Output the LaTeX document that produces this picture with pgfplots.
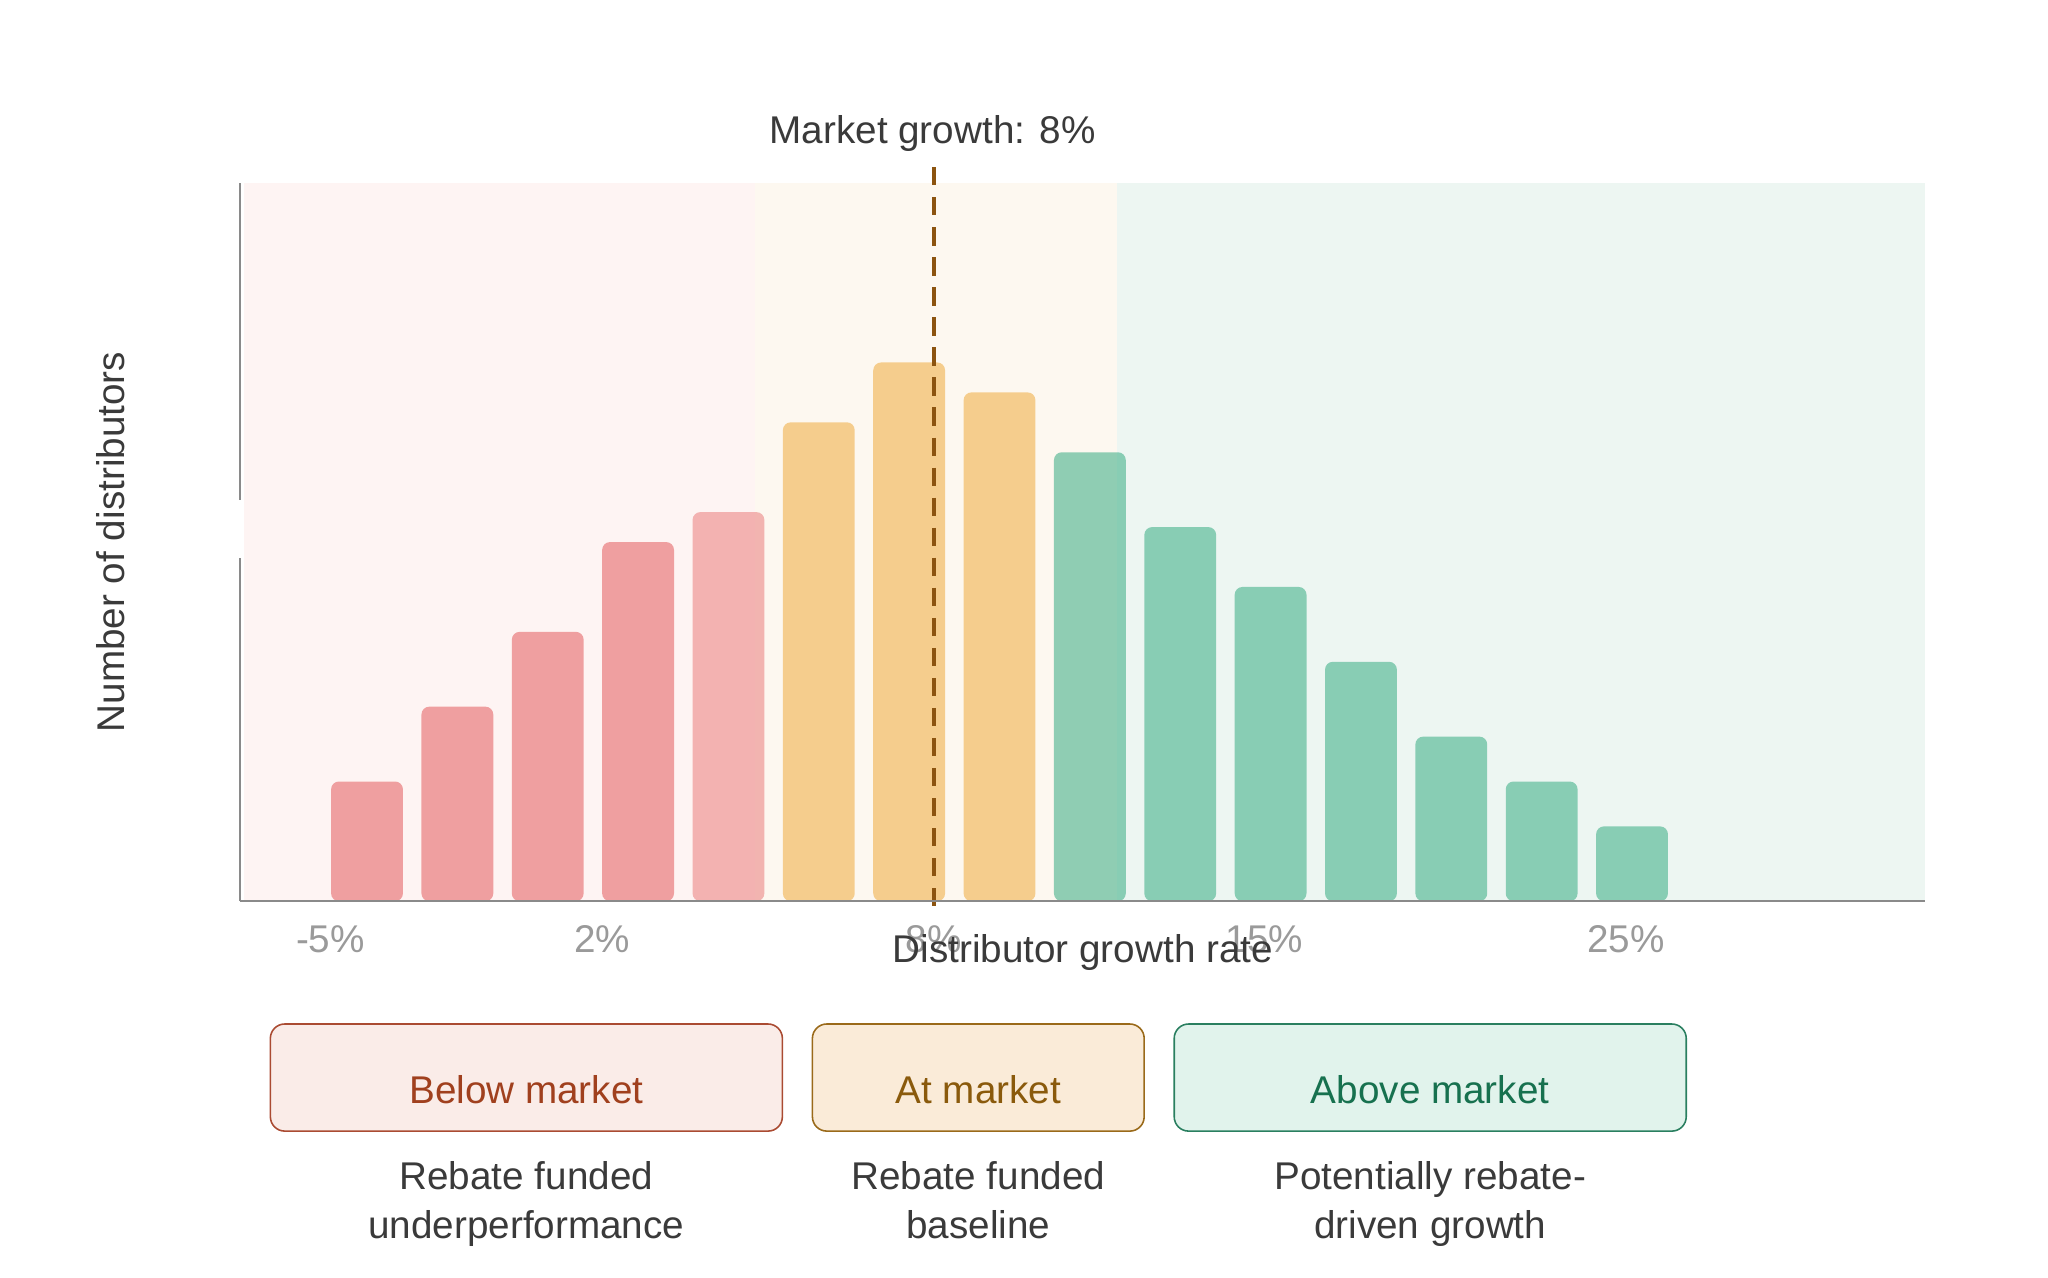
\documentclass[border=0pt]{standalone}
\usepackage{fontspec}
\setmainfont{Liberation Sans}
\usepackage{pgfplots}
\pgfplotsset{compat=1.18}
\definecolor{bandred}{HTML}{FEF4F3}
\definecolor{bandyel}{HTML}{FDF8F0}
\definecolor{bandgrn}{HTML}{EDF6F2}
\definecolor{barred}{RGB}{229,94,95}
\definecolor{baryel}{RGB}{240,173,65}
\definecolor{bargrn}{RGB}{57,173,133}
\definecolor{axisgray}{HTML}{8A8A8A}
\definecolor{tickgray}{HTML}{9A9A9A}
\definecolor{txt}{HTML}{3A3A3A}
\definecolor{mkt}{HTML}{8C5410}
\definecolor{bRfill}{HTML}{FAECE8}
\definecolor{bRdraw}{HTML}{AA4B32}
\definecolor{bRtext}{HTML}{A0401E}
\definecolor{bYfill}{HTML}{FAEBD8}
\definecolor{bYdraw}{HTML}{9A6A1A}
\definecolor{bYtext}{HTML}{8A5A0C}
\definecolor{bGfill}{HTML}{E1F3EC}
\definecolor{bGdraw}{HTML}{2A7F60}
\definecolor{bGtext}{HTML}{17714F}
\begin{document}
\begin{tikzpicture}[font=\fontsize{14.8}{18}\selectfont, text=txt]
\useasboundingbox (0pt,0pt) rectangle (784pt,-489pt);
\begin{axis}[
  at={(92pt,-345pt)}, anchor=south west,
  scale only axis, width=645pt, height=275pt,
  xmin=-1.402, xmax=17.245, ymin=0, ymax=48,
  axis lines*=left,
  axis line style={draw=axisgray, line width=0.7pt},
  ytick=\empty,
  xtick={-0.405,2.602,6.274,9.931,13.935},
  xticklabels={-5\%,2\%,8\%,15\%,25\%},
  major tick length=0pt,
  xticklabel style={font=\fontsize{14.8}{18}\selectfont, text=tickgray, anchor=base, yshift=-19.5pt},
  clip=false, axis on top,
]
\fill[bandred] (axis cs:-1.359,0) rectangle (axis cs:4.293,48);
\fill[bandyel] (axis cs:4.293,0) rectangle (axis cs:8.297,48);
\fill[bandgrn] (axis cs:8.297,0) rectangle (axis cs:17.245,48);
\addplot[ybar, bar shift=0pt, bar width=27.5pt, draw=none, fill=barred, fill opacity=0.56, rounded corners=3pt]
  coordinates {(0,8) (1,13) (2,18) (3,24)};
\addplot[ybar, bar shift=0pt, bar width=27.5pt, draw=none, fill=barred, fill opacity=0.44, rounded corners=3pt]
  coordinates {(4,26)};
\addplot[ybar, bar shift=0pt, bar width=27.5pt, draw=none, fill=baryel, fill opacity=0.56, rounded corners=3pt]
  coordinates {(5,32) (6,36) (7,34)};
\addplot[ybar, bar shift=0pt, bar width=27.5pt, draw=none, fill=bargrn, fill opacity=0.56, rounded corners=3pt]
  coordinates {(8,30) (9,25) (10,21) (11,16) (12,11) (13,8) (14,5)};
\addplot[mkt, line width=1.8pt, dash pattern=on 7pt off 4.5pt] coordinates {(6.274,49.05) (6.274,-0.45)};
\end{axis}
\begin{scope}[x=0.5pt, y=-0.5pt]
\fill[white] (181.5,383) rectangle (186.4,427);
\node[anchor=base] at (714,110) {Market growth: 8\%};
\node[anchor=base] at (829,737) {Distributor growth rate};
\node[anchor=base, rotate=90] at (95,415) {Number of distributors};
\draw[bRdraw, fill=bRfill, line width=0.6pt, rounded corners=5.5pt] (207,784) rectangle (599,866);
\draw[bYdraw, fill=bYfill, line width=0.6pt, rounded corners=5.5pt] (622,784) rectangle (876,866);
\draw[bGdraw, fill=bGfill, line width=0.6pt, rounded corners=5.5pt] (899,784) rectangle (1291,866);
\node[anchor=base, text=bRtext] at (403,845) {Below market};
\node[anchor=base, text=bYtext] at (749,845) {At market};
\node[anchor=base, text=bGtext] at (1095,845) {Above market};
\node[anchor=base] at (403,911) {Rebate funded};
\node[anchor=base] at (403,948) {underperformance};
\node[anchor=base] at (749,911) {Rebate funded};
\node[anchor=base] at (749,948) {baseline};
\node[anchor=base] at (1095,911) {Potentially rebate-};
\node[anchor=base] at (1095,948) {driven growth};
\end{scope}
\end{tikzpicture}
\end{document}
